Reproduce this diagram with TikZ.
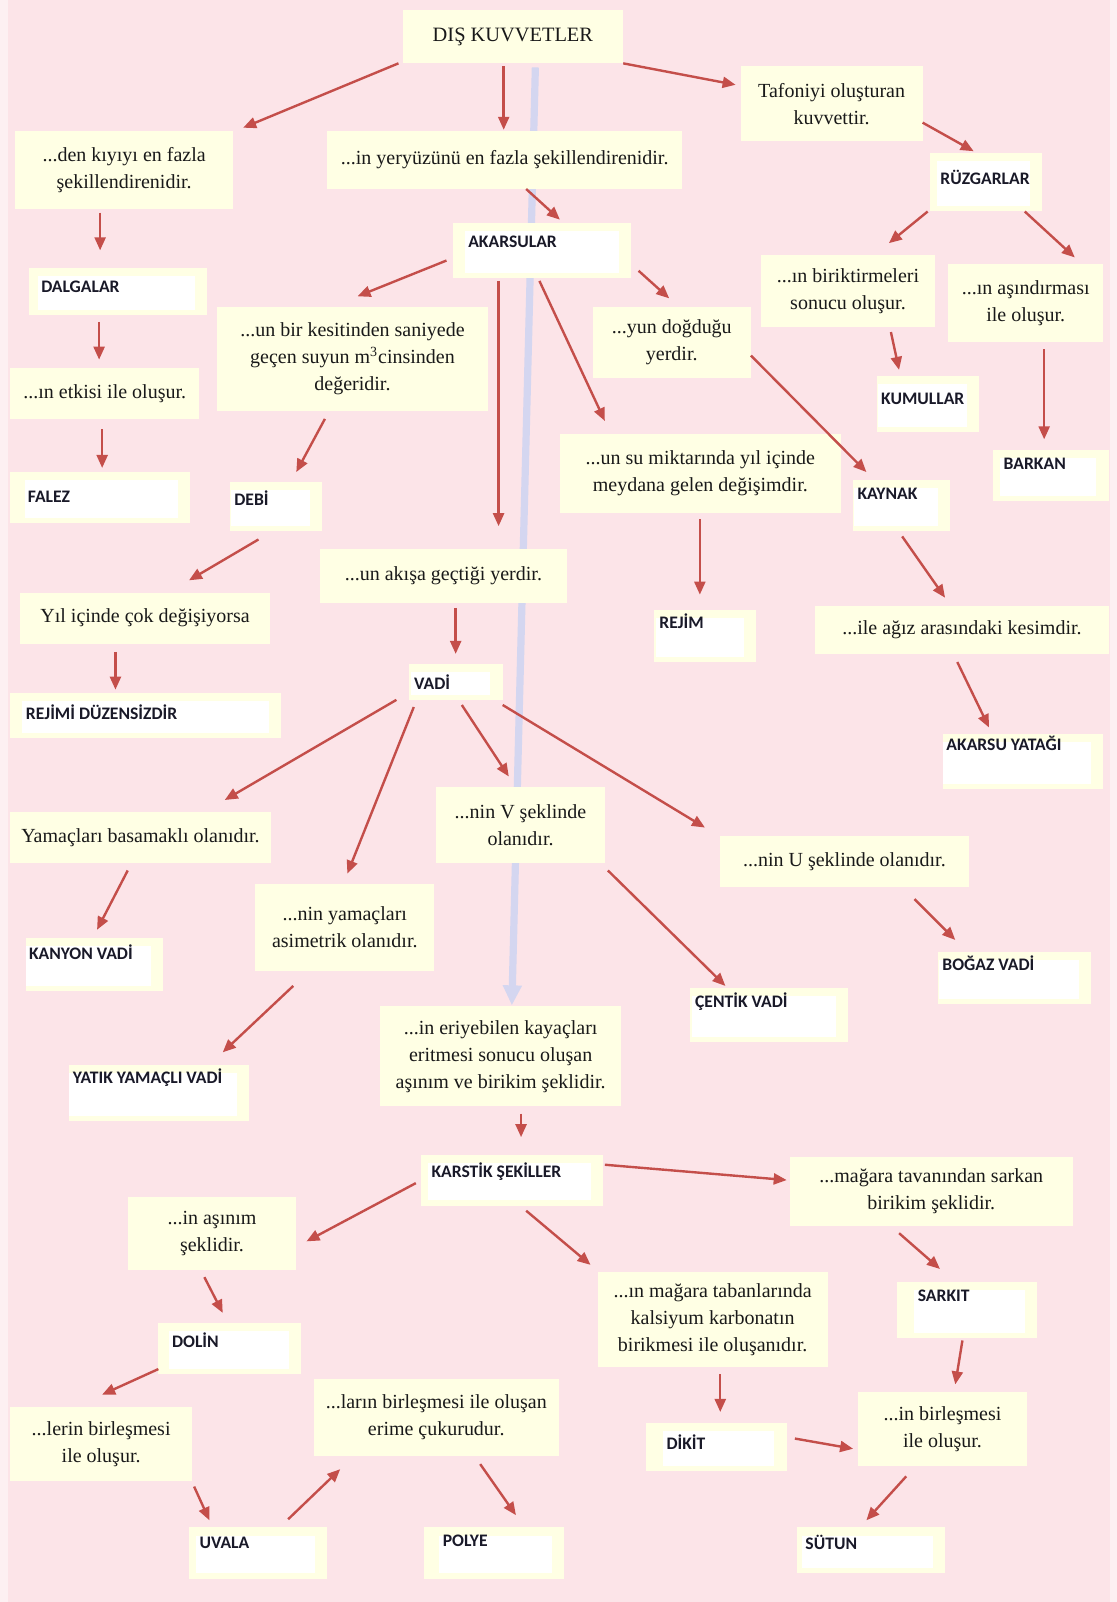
\documentclass[tikz,border=0pt]{standalone}
\usepackage{fontspec}
\setmainfont{Liberation Serif}
\newfontfamily\serifbox{Liberation Serif}
\newfontfamily\labfont{Carlito}
\usetikzlibrary{arrows.meta}
\definecolor{bgpink}{RGB}{252,228,232}
\definecolor{bgedge}{RGB}{253,240,242}
\definecolor{cream}{RGB}{255,255,228}
\definecolor{arrred}{RGB}{196,78,74}
\definecolor{blueline}{RGB}{212,214,240}
\definecolor{labtext}{RGB}{25,25,40}
\tikzset{
 box/.style={fill=cream, inner sep=0pt, align=center, font=\serifbox\fontsize{10}{13.5}\selectfont, text=black!90},
 lbox/.style={fill=cream, inner sep=0pt},
 lab/.style={font=\labfont\bfseries\fontsize{8.8}{10}\selectfont, inner sep=0pt, anchor=west, text=labtext},
 arr/.style={draw=arrred, line width=1.2pt, -{Triangle[length=6.5pt,width=5.5pt]}},
 bluearr/.style={draw=blueline, line width=3.6pt, -{Triangle[length=10pt,width=9pt]}},
}
\newcommand\bx[6]{\node[box,minimum width={(#4-#2)*0.511pt},minimum height={(#5-#3)*0.511pt}] (#1) at ({(#2+#4)/2},{(#3+#5)/2}) {#6};}
\newcommand\lb[8]{\node[lbox,minimum width={(#4-#2)*0.511pt},minimum height={(#5-#3)*0.511pt}] (#1) at ({(#2+#4)/2},{(#3+#5)/2}) {};
 \fill[white] ({#7-3},{#3+8}) rectangle ({#4-12},{#5-5});
 \node[lab] (#1-t) at (#7,#8) {#6};}
\begin{document}
\begin{tikzpicture}[x=0.511pt,y=-0.511pt]
\useasboundingbox (0,0) rectangle (1093,1568);
\fill[bgedge] (0,0) rectangle (1093,1568);
\fill[bgpink] (8,0) rectangle (1086,1568);
% blue line
\coordinate (bl1) at (524,66);
\coordinate (bl2) at (501,984);
\draw[bluearr] (bl1) -- (bl2);
% text boxes
\node[box,minimum width={215*0.511pt},minimum height={52*0.511pt},font=\serifbox\fontsize{10.2}{13}\selectfont] (dis) at (502,36) {DIŞ KUVVETLER};
\bx{kiyi}{15}{128}{228}{205}{...den kıyıyı en fazla\\şekillendirenidir.}
\bx{yery}{320}{128}{668}{185}{...in yeryüzünü en fazla şekillendirenidir.}
\bx{tafoni}{725}{65}{903}{138}{Tafoniyi oluşturan\\kuvvettir.}
\bx{birik}{745}{250}{915}{320}{...ın biriktirmeleri\\sonucu oluşur.}
\bx{asind}{928}{258}{1080}{335}{...ın aşındırması\\ile oluşur.}
\bx{kesit}{212}{300}{478}{402}{...un bir kesitinden saniyede\\geçen suyun m\textsuperscript{3}cinsinden\\değeridir.}
\bx{dogdu}{580}{300}{735}{370}{...yun doğduğu\\yerdir.}
\bx{etki}{10}{360}{195}{410}{...ın etkisi ile oluşur.}
\bx{sumik}{548}{425}{823}{502}{...un su miktarında yıl içinde\\meydana gelen değişimdir.}
\bx{akisa}{313}{537}{555}{590}{...un akışa geçtiği yerdir.}
\bx{yil}{20}{580}{264}{630}{Yıl içinde çok değişiyorsa}
\bx{agiz}{798}{593}{1085}{640}{...ile ağız arasındaki kesimdir.}
\bx{yamac}{10}{795}{265}{845}{Yamaçları basamaklı olanıdır.}
\bx{vsek}{427}{770}{592}{845}{...nin V şeklinde\\olanıdır.}
\bx{usek}{705}{818}{948}{868}{...nin U şeklinde olanıdır.}
\bx{asim}{250}{865}{425}{950}{...nin yamaçları\\asimetrik olanıdır.}
\bx{eriy}{372}{985}{608}{1083}{...in eriyebilen kayaçları\\eritmesi sonucu oluşan\\aşınım ve birikim şeklidir.}
\bx{tavan}{773}{1132}{1050}{1200}{...mağara tavanından sarkan\\birikim şeklidir.}
\bx{asinim}{125}{1172}{290}{1243}{...in aşınım\\şeklidir.}
\bx{taban}{585}{1245}{810}{1338}{...ın mağara tabanlarında\\kalsiyum karbonatın\\birikmesi ile oluşanıdır.}
\bx{lerin}{10}{1377}{188}{1450}{...lerin birleşmesi\\ile oluşur.}
\bx{larin}{307}{1350}{547}{1425}{...ların birleşmesi ile oluşan\\erime çukurudur.}
\bx{birles}{840}{1362}{1005}{1435}{...in birleşmesi\\ile oluşur.}
% label boxes
\lb{ruz}{910}{150}{1020}{207}{RÜZGARLAR}{920}{174}
\lb{kum}{858}{368}{958}{423}{KUMULLAR}{862}{390}
\lb{bark}{972}{440}{1085}{490}{BARKAN}{982}{454}
\lb{akar}{443}{218}{618}{272}{AKARSULAR}{458}{237}
\lb{dalga}{28}{262}{203}{308}{DALGALAR}{40}{281}
\lb{kaynak}{835}{470}{930}{520}{KAYNAK}{839}{483}
\lb{falez}{10}{462}{186}{512}{FALEZ}{27}{486}
\lb{debi}{225}{472}{315}{520}{DEBİ}{229}{488}
\lb{rejim}{640}{597}{740}{648}{REJİM}{645}{608}
\lb{vadi}{400}{650}{492}{685}{VADİ}{405}{668}
\lb{rejd}{10}{678}{275}{722}{REJİMİ DÜZENSİZDİR}{25}{697}
\lb{yatak}{923}{718}{1080}{772}{AKARSU YATAĞI}{926}{728}
\lb{kanyon}{25}{918}{160}{970}{KANYON VADİ}{28}{932}
\lb{bogaz}{918}{932}{1068}{983}{BOĞAZ VADİ}{922}{943}
\lb{centik}{675}{967}{830}{1020}{ÇENTİK VADİ}{680}{980}
\lb{yatik}{68}{1042}{244}{1097}{YATIK YAMAÇLI VADİ}{71}{1055}
\lb{karst}{412}{1130}{590}{1180}{KARSTİK ŞEKİLLER}{422}{1147}
\lb{sarkit}{878}{1255}{1015}{1310}{SARKIT}{898}{1268}
\lb{dolin}{155}{1295}{295}{1345}{DOLİN}{168}{1312}
\lb{dikit}{632}{1393}{770}{1440}{DİKİT}{652}{1412}
\lb{uvala}{185}{1495}{320}{1545}{UVALA}{195}{1510}
\lb{polye}{415}{1495}{552}{1545}{POLYE}{433}{1508}
\lb{sutun}{780}{1495}{925}{1540}{SÜTUN}{788}{1510}
% arrows
\draw[arr] (390,62) -- (238,125);
\draw[arr] (493,65) -- (493,127);
\draw[arr] (610,62) -- (720,83);
\draw[arr] (903,120) -- (953,148);
\draw[arr] (515,185) -- (548,215);
\draw[arr] (98,208) -- (98,245);
\draw[arr] (97,315) -- (97,352);
\draw[arr] (100,420) -- (100,458);
\draw[arr] (908,207) -- (870,238);
\draw[arr] (1003,207) -- (1052,252);
\draw[arr] (872,325) -- (880,362);
\draw[arr] (1022,342) -- (1022,430);
\draw[arr] (437,255) -- (350,290);
\draw[arr] (625,265) -- (655,292);
\draw[arr] (488,275) -- (488,515);
\draw[arr] (528,275) -- (592,412);
\draw[arr] (735,348) -- (848,462);
\draw[arr] (318,410) -- (290,462);
\draw[arr] (685,508) -- (685,582);
\draw[arr] (883,525) -- (925,585);
\draw[arr] (253,528) -- (185,568);
\draw[arr] (446,595) -- (446,640);
\draw[arr] (113,638) -- (113,675);
\draw[arr] (937,648) -- (968,712);
\draw[arr] (388,685) -- (220,783);
\draw[arr] (405,692) -- (340,855);
\draw[arr] (452,690) -- (498,760);
\draw[arr] (492,690) -- (690,810);
\draw[arr] (125,852) -- (95,910);
\draw[arr] (595,852) -- (710,965);
\draw[arr] (895,880) -- (935,920);
\draw[arr] (287,965) -- (218,1030);
\draw[arr] (510,1090) -- (510,1113);
\draw[arr] (407,1158) -- (300,1215);
\draw[arr] (592,1140) -- (770,1155);
\draw[arr] (515,1185) -- (578,1238);
\draw[arr] (200,1250) -- (218,1285);
\draw[arr] (880,1207) -- (920,1242);
\draw[arr] (705,1345) -- (705,1382);
\draw[arr] (942,1312) -- (935,1355);
\draw[arr] (155,1340) -- (100,1365);
\draw[arr] (778,1408) -- (835,1418);
\draw[arr] (887,1445) -- (848,1488);
\draw[arr] (190,1455) -- (205,1488);
\draw[arr] (282,1487) -- (333,1438);
\draw[arr] (470,1433) -- (505,1483);
\end{tikzpicture}
\end{document}
